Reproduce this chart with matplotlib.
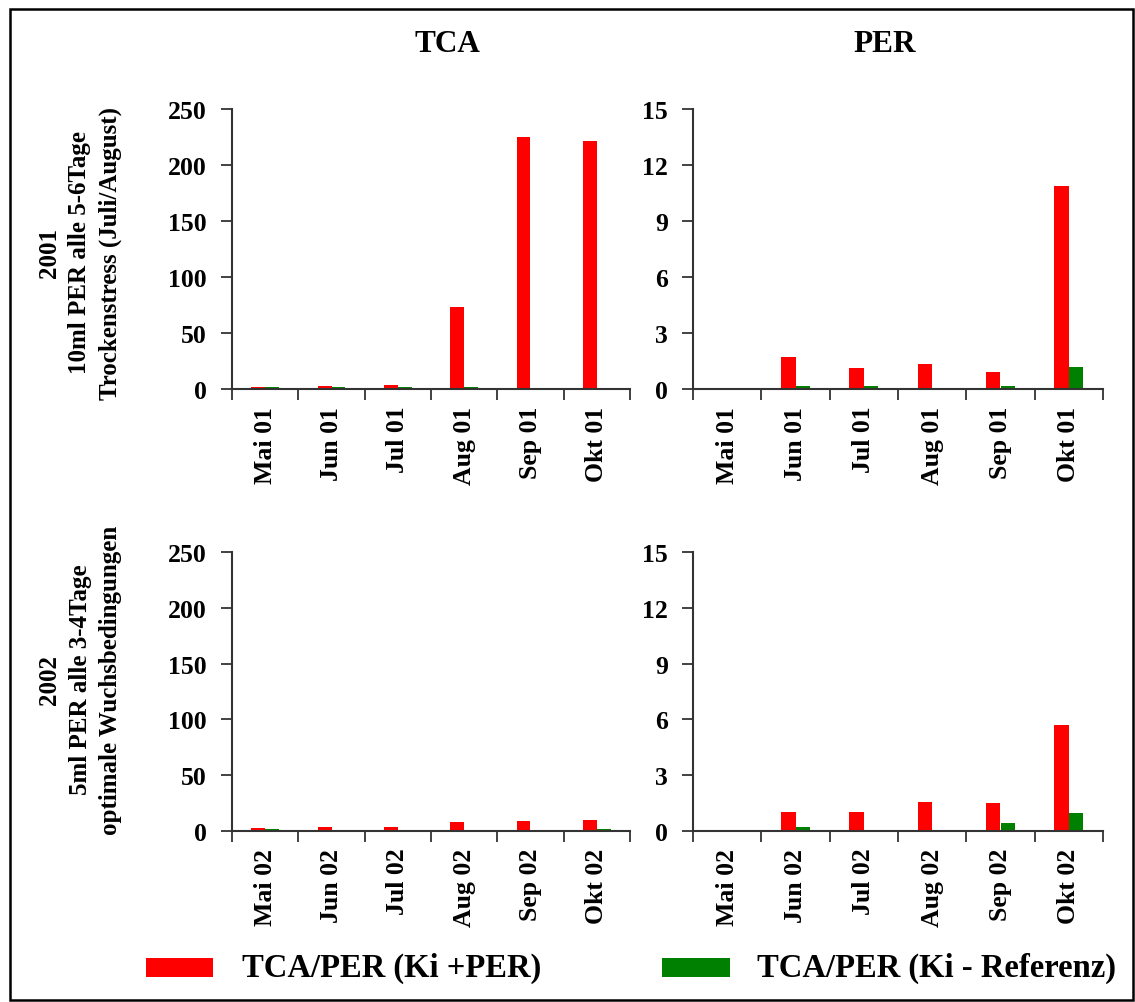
import matplotlib
matplotlib.use("Agg")
import matplotlib.pyplot as plt
from matplotlib.patches import Rectangle
import numpy as np

plt.rcParams['font.family'] = ['Liberation Serif', 'DejaVu Serif']
plt.rcParams['font.weight'] = 'bold'

months_2001 = ["Mai 01", "Jun 01", "Jul 01", "Aug 01", "Sep 01", "Okt 01"]
months_2002 = ["Mai 02", "Jun 02", "Jul 02", "Aug 02", "Sep 02", "Okt 02"]

# TCA, 2001
tca_2001_ki_per = [2.0, 3.0, 4.0, 73.0, 225.0, 221.0]
tca_2001_ref = [1.5, 1.5, 1.5, 1.5, 0.3, 0.3]
# PER, 2001
per_2001_ki_per = [0.0, 1.7, 1.1, 1.32, 0.9, 10.85]
per_2001_ref = [0.0, 0.14, 0.14, 0.07, 0.14, 1.2]
# TCA, 2002
tca_2002_ki_per = [2.9, 3.9, 3.9, 8.4, 9.3, 10.1]
tca_2002_ref = [2.0, 1.2, 1.2, 1.2, 1.2, 2.0]
# PER, 2002
per_2002_ki_per = [0.01, 1.02, 1.02, 1.56, 1.5, 5.7]
per_2002_ref = [0.01, 0.22, 0.02, 0.02, 0.43, 0.97]

col_titles = ["TCA", "PER"]
row_labels = ["2001\n10ml PER alle 5-6Tage\nTrockenstress (Juli/August)",
              "2002\n5ml PER alle 3-4Tage\noptimale Wuchsbedingungen"]
legend_labels = ["TCA/PER (Ki +PER)", "TCA/PER (Ki - Referenz)"]
red, green = "#ff0000", "#008000"

W, H = 1135, 1003
fig = plt.figure(figsize=(W / 100, H / 100), dpi=100)


def px_axes(left, top, right, bottom):
    return fig.add_axes([left / W, 1 - bottom / H, (right - left) / W, (bottom - top) / H])


panels = [
    (px_axes(232, 110, 630, 390), months_2001, tca_2001_ki_per, tca_2001_ref, 250, 50),
    (px_axes(693, 110, 1103, 390), months_2001, per_2001_ki_per, per_2001_ref, 15, 3),
    (px_axes(232, 553, 630, 832), months_2002, tca_2002_ki_per, tca_2002_ref, 250, 50),
    (px_axes(693, 553, 1103, 832), months_2002, per_2002_ki_per, per_2002_ref, 15, 3),
]

bw = 0.21
for ax, cats, a, b, ymax, step in panels:
    x = np.arange(len(cats))
    ax.bar(x - bw / 2, a, width=bw, color=red, zorder=2)
    ax.bar(x + bw / 2, b, width=bw, color=green, zorder=2)
    ax.set_xlim(-0.5, len(cats) - 0.5)
    ax.set_ylim(0, ymax)
    ax.set_yticks(np.arange(0, ymax + step / 2, step))
    ax.set_xticks(np.arange(-0.5, len(cats), 1.0))
    ax.set_xticklabels([])
    ax.set_xticks(x, minor=True)
    ax.set_xticklabels(cats, minor=True, rotation=90, fontsize=18.5, fontweight='bold')
    ax.tick_params(axis='x', which='major', direction='out', length=8, width=1.3, color='#333333')
    ax.tick_params(axis='x', which='minor', length=0, pad=12)
    ax.tick_params(axis='y', direction='out', length=8, width=1.3, color='#333333',
                   labelsize=18.5, pad=10)
    for lbl in ax.get_yticklabels():
        lbl.set_fontweight('bold')
    for s in ('top', 'right'):
        ax.spines[s].set_visible(False)
    for s in ('left', 'bottom'):
        ax.spines[s].set_linewidth(1.5)
        ax.spines[s].set_color('#333333')

fig.text(447 / W, 1 - 44 / H, col_titles[0], ha='center', va='center', fontsize=22.5, fontweight='bold')
fig.text(885 / W, 1 - 44 / H, col_titles[1], ha='center', va='center', fontsize=22.5, fontweight='bold')

fig.text(80 / W, 1 - 253 / H, row_labels[0], rotation=90, ha='center', va='center',
         multialignment='center', fontsize=18, fontweight='bold', linespacing=1.4)
fig.text(80 / W, 1 - 680 / H, row_labels[1], rotation=90, ha='center', va='center',
         multialignment='center', fontsize=18, fontweight='bold', linespacing=1.4)

# legend drawn as patches with labels below the panels
fig.patches.append(Rectangle((146 / W, 1 - 978 / H), 67 / W, 19 / H, transform=fig.transFigure,
                             facecolor=red, edgecolor='none'))
fig.patches.append(Rectangle((662 / W, 1 - 978 / H), 68 / W, 19 / H, transform=fig.transFigure,
                             facecolor=green, edgecolor='none'))
fig.text(242 / W, 1 - 968 / H, legend_labels[0], ha='left', va='center', fontsize=23.5, fontweight='bold')
fig.text(757 / W, 1 - 968 / H, legend_labels[1], ha='left', va='center', fontsize=23.5, fontweight='bold')

# outer frame
fig.patches.append(Rectangle((10 / W, 1 - 1001 / H), 1123 / W, 991 / H, transform=fig.transFigure,
                             facecolor='none', edgecolor='black', linewidth=1.8))

fig.savefig("out.png", dpi=100)
